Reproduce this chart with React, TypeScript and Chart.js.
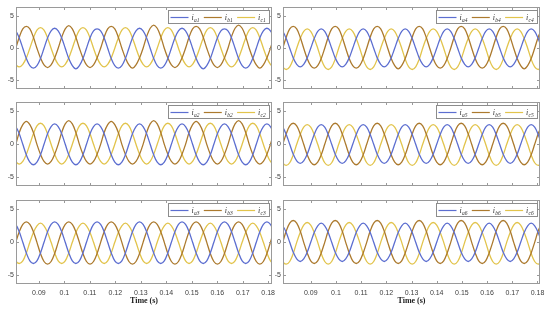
import React, { useEffect, useRef } from "react";
import { Chart, registerables } from "chart.js";

Chart.register(...registerables);

// ---- sample times (s) ----
const timeLeft = [
  0.0795, 0.08089, 0.08228, 0.08367, 0.08506, 0.08644, 0.08783, 0.08922, 0.09061, 0.092, 0.09339, 0.09478,
  0.09617, 0.09756, 0.09894, 0.10033, 0.10172, 0.10311, 0.1045, 0.10589, 0.10728, 0.10867, 0.11006, 0.11144,
  0.11283, 0.11422, 0.11561, 0.117, 0.11839, 0.11978, 0.12117, 0.12256, 0.12394, 0.12533, 0.12672, 0.12811,
  0.1295, 0.13089, 0.13228, 0.13367, 0.13506, 0.13644, 0.13783, 0.13922, 0.14061, 0.142, 0.14339, 0.14478,
  0.14617, 0.14756, 0.14894, 0.15033, 0.15172, 0.15311, 0.1545, 0.15589, 0.15728, 0.15867, 0.16006, 0.16144,
  0.16283, 0.16422, 0.16561, 0.167, 0.16839, 0.16978, 0.17117, 0.17256, 0.17394, 0.17533, 0.17672, 0.17811,
  0.1795, 0.18089, 0.18228, 0.18367,
];
const timeRight = [
  0.0775, 0.07889, 0.08028, 0.08167, 0.08306, 0.08444, 0.08583, 0.08722, 0.08861, 0.09, 0.09139, 0.09278,
  0.09417, 0.09556, 0.09694, 0.09833, 0.09972, 0.10111, 0.1025, 0.10389, 0.10528, 0.10667, 0.10806, 0.10944,
  0.11083, 0.11222, 0.11361, 0.115, 0.11639, 0.11778, 0.11917, 0.12056, 0.12194, 0.12333, 0.12472, 0.12611,
  0.1275, 0.12889, 0.13028, 0.13167, 0.13306, 0.13444, 0.13583, 0.13722, 0.13861, 0.14, 0.14139, 0.14278,
  0.14417, 0.14556, 0.14694, 0.14833, 0.14972, 0.15111, 0.1525, 0.15389, 0.15528, 0.15667, 0.15806, 0.15944,
  0.16083, 0.16222, 0.16361, 0.165, 0.16639, 0.16778, 0.16917, 0.17056, 0.17194, 0.17333, 0.17472, 0.17611,
  0.1775, 0.17889, 0.18028, 0.18167,
];

// ---- panel 1 ----
const ia1 = [
  3.1, 2.7, 1.6, 0, -1.6, -2.7, -3.1, -2.7, -1.6, 0, 1.6, 2.7,
  3.1, 2.7, 1.6, 0, -1.6, -2.7, -3.2, -2.7, -1.6, 0, 1.6, 2.7,
  3.0, 2.7, 1.6, 0, -1.6, -2.7, -3.1, -2.7, -1.6, 0, 1.6, 2.7,
  3.1, 2.7, 1.6, 0, -1.6, -2.7, -3.1, -2.7, -1.6, 0, 1.6, 2.7,
  3.1, 2.7, 1.6, 0, -1.6, -2.7, -3.2, -2.7, -1.6, 0, 1.6, 2.7,
  3.0, 2.7, 1.6, 0, -1.6, -2.7, -3.1, -2.7, -1.6, 0, 1.6, 2.7,
  3.1, 2.7, 1.6, 0,
];
const ib1 = [
  -1.5, 0, 1.7, 3.0, 3.4, 3.0, 1.7, 0, -1.5, -2.6, -3.0, -2.6,
  -1.5, 0, 1.7, 3.0, 3.5, 3.0, 1.7, 0, -1.5, -2.6, -3.0, -2.6,
  -1.5, 0, 1.7, 3.0, 3.4, 3.0, 1.7, 0, -1.5, -2.6, -3.1, -2.6,
  -1.5, 0, 1.8, 3.1, 3.6, 3.1, 1.8, 0, -1.5, -2.6, -3.0, -2.6,
  -1.5, 0, 1.7, 3.0, 3.4, 3.0, 1.7, 0, -1.5, -2.6, -3.0, -2.6,
  -1.5, 0, 1.8, 3.1, 3.6, 3.1, 1.8, 0, -1.5, -2.6, -3.1, -2.6,
  -1.5, 0, 1.7, 3.0,
];
const ic1 = [
  -1.5, -2.5, -2.9, -2.5, -1.5, 0, 1.6, 2.8, 3.2, 2.8, 1.6, 0,
  -1.5, -2.5, -2.9, -2.5, -1.5, 0, 1.6, 2.8, 3.2, 2.8, 1.6, 0,
  -1.5, -2.5, -2.9, -2.5, -1.5, 0, 1.6, 2.8, 3.2, 2.8, 1.6, 0,
  -1.5, -2.5, -2.9, -2.5, -1.5, 0, 1.6, 2.8, 3.2, 2.8, 1.6, 0,
  -1.5, -2.5, -2.9, -2.5, -1.5, 0, 1.6, 2.8, 3.2, 2.8, 1.6, 0,
  -1.5, -2.5, -2.9, -2.5, -1.5, 0, 1.6, 2.8, 3.2, 2.8, 1.6, 0,
  -1.5, -2.5, -2.9, -2.5,
];

// ---- panel 2 ----
const ia2 = [
  3.1, 2.7, 1.6, 0, -1.6, -2.7, -3.1, -2.7, -1.6, 0, 1.6, 2.7,
  3.1, 2.7, 1.6, 0, -1.6, -2.7, -3.1, -2.7, -1.6, 0, 1.6, 2.7,
  3.1, 2.7, 1.6, 0, -1.6, -2.7, -3.1, -2.7, -1.6, 0, 1.6, 2.7,
  3.1, 2.7, 1.6, 0, -1.6, -2.7, -3.1, -2.7, -1.6, 0, 1.6, 2.7,
  3.1, 2.7, 1.6, 0, -1.6, -2.7, -3.1, -2.7, -1.6, 0, 1.6, 2.7,
  3.1, 2.7, 1.6, 0, -1.6, -2.7, -3.1, -2.7, -1.6, 0, 1.6, 2.7,
  3.1, 2.7, 1.6, 0,
];
const ib2 = [
  -1.5, 0, 1.8, 3.0, 3.5, 3.0, 1.8, 0, -1.5, -2.6, -3.0, -2.6,
  -1.5, 0, 1.8, 3.1, 3.6, 3.1, 1.8, 0, -1.5, -2.6, -3.0, -2.6,
  -1.5, 0, 1.8, 3.0, 3.5, 3.0, 1.8, 0, -1.5, -2.6, -3.0, -2.6,
  -1.5, 0, 1.8, 3.1, 3.6, 3.1, 1.8, 0, -1.5, -2.6, -3.0, -2.6,
  -1.5, 0, 1.8, 3.0, 3.5, 3.0, 1.8, 0, -1.5, -2.6, -3.0, -2.6,
  -1.5, 0, 1.8, 3.1, 3.6, 3.1, 1.8, 0, -1.5, -2.6, -3.0, -2.6,
  -1.5, 0, 1.8, 3.0,
];
const ic2 = [
  -1.5, -2.6, -3.0, -2.6, -1.5, 0, 1.6, 2.8, 3.2, 2.8, 1.6, 0,
  -1.5, -2.6, -3.0, -2.6, -1.5, 0, 1.6, 2.8, 3.2, 2.8, 1.6, 0,
  -1.5, -2.6, -3.0, -2.6, -1.5, 0, 1.6, 2.8, 3.2, 2.8, 1.6, 0,
  -1.5, -2.6, -3.0, -2.6, -1.5, 0, 1.6, 2.8, 3.2, 2.8, 1.6, 0,
  -1.5, -2.6, -3.0, -2.6, -1.5, 0, 1.6, 2.8, 3.2, 2.8, 1.6, 0,
  -1.5, -2.6, -3.0, -2.6, -1.5, 0, 1.6, 2.8, 3.2, 2.8, 1.6, 0,
  -1.5, -2.6, -3.0, -2.6,
];

// ---- panel 3 ----
const ia3 = [
  3.1, 2.7, 1.6, 0, -1.6, -2.8, -3.2, -2.8, -1.6, 0, 1.6, 2.7,
  3.1, 2.7, 1.6, 0, -1.6, -2.8, -3.2, -2.8, -1.6, 0, 1.6, 2.7,
  3.1, 2.7, 1.6, 0, -1.6, -2.8, -3.2, -2.8, -1.6, 0, 1.6, 2.7,
  3.1, 2.7, 1.6, 0, -1.6, -2.8, -3.2, -2.8, -1.6, 0, 1.6, 2.7,
  3.1, 2.7, 1.6, 0, -1.6, -2.8, -3.2, -2.8, -1.6, 0, 1.6, 2.7,
  3.1, 2.7, 1.6, 0, -1.6, -2.8, -3.2, -2.8, -1.6, 0, 1.6, 2.7,
  3.1, 2.7, 1.6, 0,
];
const ib3 = [
  -1.7, 0, 1.6, 2.7, 3.1, 2.7, 1.6, 0, -1.7, -2.9, -3.3, -2.9,
  -1.7, 0, 1.6, 2.7, 3.1, 2.7, 1.6, 0, -1.7, -2.9, -3.3, -2.9,
  -1.7, 0, 1.6, 2.7, 3.1, 2.7, 1.6, 0, -1.7, -2.9, -3.3, -2.9,
  -1.7, 0, 1.6, 2.7, 3.1, 2.7, 1.6, 0, -1.7, -2.9, -3.3, -2.9,
  -1.7, 0, 1.6, 2.7, 3.1, 2.7, 1.6, 0, -1.7, -2.9, -3.3, -2.9,
  -1.7, 0, 1.6, 2.7, 3.1, 2.7, 1.6, 0, -1.7, -2.9, -3.3, -2.9,
  -1.7, 0, 1.6, 2.7,
];
const ic3 = [
  -1.6, -2.8, -3.2, -2.8, -1.6, 0, 1.5, 2.5, 2.9, 2.5, 1.5, 0,
  -1.6, -2.8, -3.2, -2.8, -1.6, 0, 1.5, 2.5, 2.9, 2.5, 1.5, 0,
  -1.6, -2.8, -3.2, -2.8, -1.6, 0, 1.5, 2.5, 2.9, 2.5, 1.5, 0,
  -1.6, -2.8, -3.2, -2.8, -1.6, 0, 1.5, 2.5, 2.9, 2.5, 1.5, 0,
  -1.6, -2.8, -3.2, -2.8, -1.6, 0, 1.5, 2.5, 2.9, 2.5, 1.5, 0,
  -1.6, -2.8, -3.2, -2.8, -1.6, 0, 1.5, 2.5, 2.9, 2.5, 1.5, 0,
  -1.6, -2.8, -3.2, -2.8,
];

// ---- panel 4 ----
const ia4 = [
  3.0, 2.6, 1.5, 0, -1.5, -2.5, -2.9, -2.5, -1.5, 0, 1.5, 2.6,
  3.0, 2.6, 1.5, 0, -1.5, -2.5, -2.9, -2.5, -1.5, 0, 1.5, 2.6,
  3.0, 2.6, 1.5, 0, -1.5, -2.5, -2.9, -2.5, -1.5, 0, 1.5, 2.6,
  3.0, 2.6, 1.5, 0, -1.5, -2.5, -2.9, -2.5, -1.5, 0, 1.5, 2.6,
  3.0, 2.6, 1.5, 0, -1.5, -2.5, -2.9, -2.5, -1.5, 0, 1.5, 2.6,
  3.0, 2.6, 1.5, 0, -1.5, -2.5, -2.9, -2.5, -1.5, 0, 1.5, 2.6,
  3.0, 2.6, 1.5, 0,
];
const ib4 = [
  -1.6, 0, 1.7, 3.0, 3.4, 3.0, 1.7, 0, -1.6, -2.7, -3.1, -2.7,
  -1.6, 0, 1.7, 3.0, 3.4, 3.0, 1.7, 0, -1.6, -2.7, -3.1, -2.7,
  -1.6, 0, 1.7, 3.0, 3.4, 3.0, 1.7, 0, -1.6, -2.7, -3.2, -2.7,
  -1.6, 0, 1.7, 3.0, 3.4, 3.0, 1.7, 0, -1.6, -2.7, -3.1, -2.7,
  -1.6, 0, 1.7, 3.0, 3.4, 3.0, 1.7, 0, -1.6, -2.7, -3.1, -2.7,
  -1.6, 0, 1.7, 3.0, 3.4, 3.0, 1.7, 0, -1.6, -2.7, -3.2, -2.7,
  -1.6, 0, 1.7, 3.0,
];
const ic4 = [
  -1.7, -2.9, -3.3, -2.9, -1.7, 0, 1.5, 2.6, 3.0, 2.6, 1.5, 0,
  -1.7, -2.9, -3.3, -2.9, -1.7, 0, 1.5, 2.6, 3.0, 2.6, 1.5, 0,
  -1.7, -2.9, -3.3, -2.9, -1.7, 0, 1.5, 2.6, 3.0, 2.6, 1.5, 0,
  -1.7, -2.9, -3.3, -2.9, -1.7, 0, 1.5, 2.6, 3.0, 2.6, 1.5, 0,
  -1.7, -2.9, -3.3, -2.9, -1.7, 0, 1.5, 2.6, 3.0, 2.6, 1.5, 0,
  -1.7, -2.9, -3.3, -2.9, -1.7, 0, 1.5, 2.6, 3.0, 2.6, 1.5, 0,
  -1.7, -2.9, -3.3, -2.9,
];

// ---- panel 5 ----
const ia5 = [
  3.0, 2.6, 1.5, 0, -1.5, -2.5, -2.9, -2.5, -1.5, 0, 1.5, 2.6,
  3.0, 2.6, 1.5, 0, -1.5, -2.5, -2.9, -2.5, -1.5, 0, 1.5, 2.6,
  3.0, 2.6, 1.5, 0, -1.5, -2.5, -2.9, -2.5, -1.5, 0, 1.5, 2.6,
  3.0, 2.6, 1.5, 0, -1.5, -2.5, -2.9, -2.5, -1.5, 0, 1.5, 2.6,
  3.0, 2.6, 1.5, 0, -1.5, -2.5, -2.9, -2.5, -1.5, 0, 1.5, 2.6,
  3.0, 2.6, 1.5, 0, -1.5, -2.5, -2.9, -2.5, -1.5, 0, 1.5, 2.6,
  3.0, 2.6, 1.5, 0,
];
const ib5 = [
  -1.6, 0, 1.6, 2.8, 3.2, 2.8, 1.6, 0, -1.6, -2.7, -3.1, -2.7,
  -1.6, 0, 1.6, 2.8, 3.2, 2.8, 1.6, 0, -1.6, -2.7, -3.1, -2.7,
  -1.6, 0, 1.6, 2.8, 3.2, 2.8, 1.6, 0, -1.6, -2.7, -3.1, -2.7,
  -1.6, 0, 1.6, 2.8, 3.2, 2.8, 1.6, 0, -1.6, -2.7, -3.1, -2.7,
  -1.6, 0, 1.6, 2.8, 3.2, 2.8, 1.6, 0, -1.6, -2.7, -3.1, -2.7,
  -1.6, 0, 1.6, 2.8, 3.2, 2.8, 1.6, 0, -1.6, -2.7, -3.1, -2.7,
  -1.6, 0, 1.6, 2.8,
];
const ic5 = [
  -1.6, -2.8, -3.2, -2.8, -1.6, 0, 1.5, 2.6, 3.0, 2.6, 1.5, 0,
  -1.6, -2.8, -3.2, -2.8, -1.6, 0, 1.5, 2.6, 3.0, 2.6, 1.5, 0,
  -1.6, -2.8, -3.2, -2.8, -1.6, 0, 1.5, 2.6, 3.0, 2.6, 1.5, 0,
  -1.6, -2.8, -3.2, -2.8, -1.6, 0, 1.5, 2.6, 3.0, 2.6, 1.5, 0,
  -1.6, -2.8, -3.2, -2.8, -1.6, 0, 1.5, 2.6, 3.0, 2.6, 1.5, 0,
  -1.6, -2.8, -3.2, -2.8, -1.6, 0, 1.5, 2.6, 3.0, 2.6, 1.5, 0,
  -1.6, -2.8, -3.2, -2.8,
];

// ---- panel 6 ----
const ia6 = [
  2.9, 2.5, 1.5, 0, -1.5, -2.5, -2.9, -2.5, -1.5, 0, 1.5, 2.5,
  2.9, 2.5, 1.5, 0, -1.5, -2.5, -2.9, -2.5, -1.5, 0, 1.5, 2.5,
  2.9, 2.5, 1.5, 0, -1.5, -2.5, -2.9, -2.5, -1.5, 0, 1.5, 2.5,
  2.9, 2.5, 1.5, 0, -1.5, -2.5, -2.9, -2.5, -1.5, 0, 1.5, 2.5,
  2.9, 2.5, 1.5, 0, -1.5, -2.5, -2.9, -2.5, -1.5, 0, 1.5, 2.5,
  2.9, 2.5, 1.5, 0, -1.5, -2.5, -2.9, -2.5, -1.5, 0, 1.5, 2.5,
  2.9, 2.5, 1.5, 0,
];
const ib6 = [
  -1.6, 0, 1.7, 2.9, 3.3, 2.9, 1.7, 0, -1.6, -2.8, -3.2, -2.8,
  -1.6, 0, 1.7, 2.9, 3.3, 2.9, 1.7, 0, -1.6, -2.8, -3.2, -2.8,
  -1.6, 0, 1.7, 2.9, 3.3, 2.9, 1.7, 0, -1.6, -2.8, -3.2, -2.8,
  -1.6, 0, 1.7, 2.9, 3.3, 2.9, 1.7, 0, -1.6, -2.8, -3.2, -2.8,
  -1.6, 0, 1.7, 2.9, 3.3, 2.9, 1.7, 0, -1.6, -2.8, -3.2, -2.8,
  -1.6, 0, 1.7, 2.9, 3.3, 2.9, 1.7, 0, -1.6, -2.8, -3.2, -2.8,
  -1.6, 0, 1.7, 2.9,
];
const ic6 = [
  -1.7, -2.9, -3.3, -2.9, -1.7, 0, 1.5, 2.6, 3.0, 2.6, 1.5, 0,
  -1.7, -2.9, -3.3, -2.9, -1.7, 0, 1.5, 2.6, 3.0, 2.6, 1.5, 0,
  -1.7, -2.9, -3.3, -2.9, -1.7, 0, 1.5, 2.6, 3.0, 2.6, 1.5, 0,
  -1.7, -2.9, -3.3, -2.9, -1.7, 0, 1.5, 2.6, 3.0, 2.6, 1.5, 0,
  -1.7, -2.9, -3.3, -2.9, -1.7, 0, 1.5, 2.6, 3.0, 2.6, 1.5, 0,
  -1.7, -2.9, -3.3, -2.9, -1.7, 0, 1.5, 2.6, 3.0, 2.6, 1.5, 0,
  -1.7, -2.9, -3.3, -2.9,
];

const xTickValues = [0.09, 0.1, 0.11, 0.12, 0.13, 0.14, 0.15, 0.16, 0.17, 0.18];
const yTickValues = [-5, 0, 5];
const phaseColors = ["rgb(92,110,208)", "rgb(172,122,46)", "rgb(226,196,76)"];
const xTitle = "Time (s)";

type Panel = {
  id: string;
  left: number;
  top: number;
  width: number;
  height: number;
  padTop: number;
  padRight: number;
  yAxisW: number;
  xAxisH: number;
  xMin: number;
  xMax: number;
  time: number[];
  series: { label: string; values: number[] }[];
  bottomRow: boolean;
};

const LEFT = { left: 0, width: 282, padRight: 10, yAxisW: 16, xMin: 0.081, xMax: 0.1815, time: timeLeft };
const RIGHT = { left: 268, width: 282, padRight: 10, yAxisW: 15, xMin: 0.079, xMax: 0.181, time: timeRight };
const ROW1 = { top: 0, height: 95, padTop: 7, xAxisH: 4, bottomRow: false };
const ROW2 = { top: 96, height: 96, padTop: 6, xAxisH: 5, bottomRow: false };
const ROW3 = { top: 192, height: 120, padTop: 8, xAxisH: 28, bottomRow: true };

const panels: Panel[] = [
  { id: "p1", ...LEFT, ...ROW1, series: [{ label: "ia1", values: ia1 }, { label: "ib1", values: ib1 }, { label: "ic1", values: ic1 }] },
  { id: "p2", ...LEFT, ...ROW2, series: [{ label: "ia2", values: ia2 }, { label: "ib2", values: ib2 }, { label: "ic2", values: ic2 }] },
  { id: "p3", ...LEFT, ...ROW3, series: [{ label: "ia3", values: ia3 }, { label: "ib3", values: ib3 }, { label: "ic3", values: ic3 }] },
  { id: "p4", ...RIGHT, ...ROW1, series: [{ label: "ia4", values: ia4 }, { label: "ib4", values: ib4 }, { label: "ic4", values: ic4 }] },
  { id: "p5", ...RIGHT, ...ROW2, series: [{ label: "ia5", values: ia5 }, { label: "ib5", values: ib5 }, { label: "ic5", values: ic5 }] },
  { id: "p6", ...RIGHT, ...ROW3, series: [{ label: "ia6", values: ia6 }, { label: "ib6", values: ib6 }, { label: "ic6", values: ic6 }] },
];

const axesBoxPlugin = {
  id: "axesBox",
  afterDraw(chart: any) {
    const { ctx, chartArea: a, scales } = chart;
    const L = Math.round(a.left) + 0.5;
    const R = Math.round(a.right) - 0.5;
    const T = Math.round(a.top) + 0.5;
    const B = Math.round(a.bottom) - 0.5;
    ctx.save();
    ctx.strokeStyle = "#9a9a9a";
    ctx.lineWidth = 1;
    ctx.strokeRect(L, T, R - L, B - T);
    ctx.beginPath();
    const tl = 2.5;
    scales.x.ticks.forEach((t: any) => {
      const px = Math.round(scales.x.getPixelForValue(t.value)) + 0.5;
      ctx.moveTo(px, B);
      ctx.lineTo(px, B - tl);
      ctx.moveTo(px, T);
      ctx.lineTo(px, T + tl);
    });
    scales.y.ticks.forEach((t: any) => {
      const py = Math.round(scales.y.getPixelForValue(t.value)) + 0.5;
      ctx.moveTo(L, py);
      ctx.lineTo(L + tl, py);
      ctx.moveTo(R, py);
      ctx.lineTo(R - tl, py);
    });
    ctx.stroke();
    ctx.restore();
  },
};

const legendPlugin = {
  id: "miniLegend",
  afterDraw(chart: any) {
    const { ctx, chartArea: a } = chart;
    const sets = chart.data.datasets;
    const w = 101;
    const h = 13;
    const x = Math.round(a.right - 3 - w) + 0.5;
    const y = Math.round(a.top + 3) + 0.5;
    ctx.save();
    ctx.fillStyle = "#ffffff";
    ctx.fillRect(x, y, w, h);
    ctx.strokeStyle = "#8c8c8c";
    ctx.lineWidth = 1;
    ctx.strokeRect(x, y, w, h);
    sets.forEach((ds: any, i: number) => {
      const x0 = x + 2 + i * 33.3;
      const my = Math.round(y + h / 2) + 0.5;
      ctx.strokeStyle = ds.borderColor;
      ctx.lineWidth = 1.2;
      ctx.beginPath();
      ctx.moveTo(x0, my);
      ctx.lineTo(x0 + 18, my);
      ctx.stroke();
      ctx.fillStyle = "#333";
      ctx.textBaseline = "alphabetic";
      ctx.textAlign = "left";
      ctx.font = 'italic 8px "Liberation Serif"';
      ctx.fillText(ds.label.slice(0, 1), x0 + 21, my + 2.5);
      ctx.font = 'italic 5.5px "Liberation Serif"';
      ctx.fillText(ds.label.slice(1), x0 + 23.5, my + 4);
    });
    ctx.restore();
  },
};

function PanelChart({ p }: { p: Panel }) {
  const ref = useRef<HTMLCanvasElement | null>(null);
  useEffect(() => {
    if (!ref.current) return;
    const chart = new Chart(ref.current, {
      type: "line",
      data: {
        datasets: p.series.map((s, i) => ({
          label: s.label,
          data: p.time.map((t, k) => ({ x: t, y: s.values[k] })),
          borderColor: phaseColors[i],
          backgroundColor: phaseColors[i],
          borderWidth: 1.3,
          pointRadius: 0,
          tension: 0.36,
          fill: false,
        })),
      },
      options: {
        animation: false,
        responsive: false,
        devicePixelRatio: 1,
        layout: { autoPadding: false, padding: { top: p.padTop, right: p.padRight, left: 0, bottom: 0 } },
        plugins: { legend: { display: false }, tooltip: { enabled: false } },
        scales: {
          x: {
            type: "linear",
            min: p.xMin,
            max: p.xMax,
            grid: { display: false, drawTicks: false },
            border: { display: false },
            afterBuildTicks: (scale: any) => {
              scale.ticks = xTickValues.map((v) => ({ value: v }));
            },
            afterFit: (scale: any) => {
              scale.height = p.xAxisH;
            },
            ticks: {
              display: p.bottomRow,
              padding: 5,
              color: "#404040",
              font: { size: 7, family: '"Liberation Sans", Arial, sans-serif' },
              callback: (v: any) => String(Number(v)),
              maxRotation: 0,
              autoSkip: false,
            },
            title: {
              display: p.bottomRow,
              text: xTitle,
              color: "#222",
              font: { size: 8, weight: "bold", family: '"Liberation Serif", "Times New Roman", serif' },
              padding: { top: 0, bottom: 6 },
            },
          },
          y: {
            type: "linear",
            min: -6.3,
            max: 6.4,
            grid: { display: false, drawTicks: false },
            border: { display: false },
            afterBuildTicks: (scale: any) => {
              scale.ticks = yTickValues.map((v) => ({ value: v }));
            },
            afterFit: (scale: any) => {
              scale.width = p.yAxisW;
            },
            ticks: {
              padding: 2,
              color: "#404040",
              font: { size: 7, family: '"Liberation Sans", Arial, sans-serif' },
              callback: (v: any) => String(Number(v)),
            },
          },
        },
      },
      plugins: [axesBoxPlugin, legendPlugin],
    } as any);
    return () => chart.destroy();
  }, [p]);
  return (
    <canvas
      ref={ref}
      width={p.width}
      height={p.height}
      style={{ position: "absolute", left: p.left, top: p.top, width: p.width, height: p.height }}
    />
  );
}

export default function App() {
  return (
    <div style={{ position: "fixed", left: 0, top: 0, width: 550, height: 312, background: "#fff" }}>
      {panels.map((p) => (
        <PanelChart key={p.id} p={p} />
      ))}
    </div>
  );
}
